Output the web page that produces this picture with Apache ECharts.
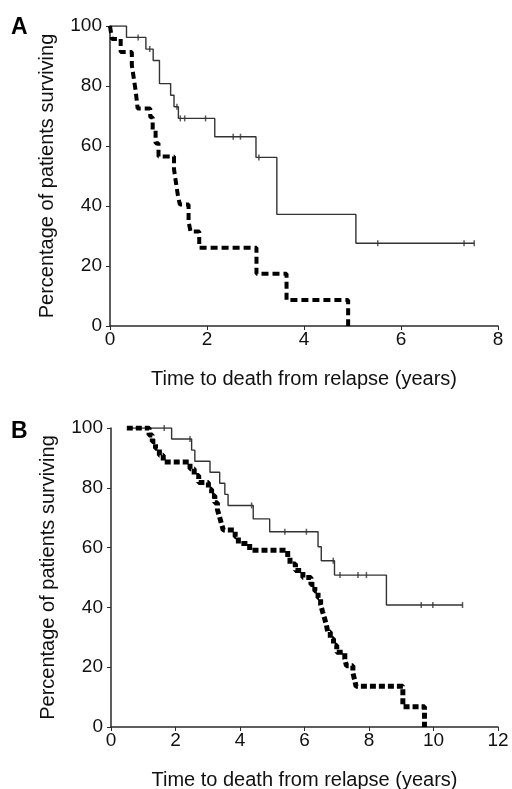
<!DOCTYPE html>
<html>
<head>
<meta charset="utf-8">
<script src="https://cdn.jsdelivr.net/npm/echarts@6/dist/echarts.min.js"></script>
<style>
html,body{margin:0;padding:0;background:#fff;}
#chart{width:512px;height:789px;}
</style>
</head>
<body>
<div id="chart"></div>
<script>
// ---- Panel A data (years, % surviving after each drop) ----
const aSolidT = [0, 0.34, 0.74, 0.89, 1.02, 1.25, 1.32, 1.41, 2.16, 3.01, 3.44, 5.07, 7.51];
const aSolidS = [100, 96.2, 92.3, 88.5, 80.8, 76.9, 73.1, 69.2, 63.1, 56.2, 37.2, 27.6, 27.6];
const aSolidCensor = [0.58, 0.82, 1.38, 1.45, 1.54, 1.97, 2.54, 2.69, 3.07, 5.52, 7.3, 7.51];
const aDashT = [0, 0.04, 0.22, 0.45, 0.49, 0.53, 0.57, 0.83, 0.88, 0.94, 1.0, 1.32, 1.36, 1.4, 1.44, 1.62, 1.66, 1.84, 3.02, 3.64, 4.91];
const aDashS = [100, 95.7, 91.3, 87.0, 82.6, 78.3, 72.5, 69.6, 65.2, 60.9, 56.5, 52.2, 47.8, 43.5, 40.5, 34.8, 31.5, 26.1, 17.4, 8.7, 0];

// ---- Panel B data ----
const bSolidT = [0.5, 1.88, 2.5, 2.6, 3.07, 3.37, 3.53, 3.63, 4.41, 4.92, 6.42, 6.52, 6.93, 8.54, 10.9];
const bSolidS = [100, 96.3, 92.6, 88.9, 85.2, 81.5, 77.8, 74.1, 69.6, 65.3, 60.3, 55.6, 50.8, 40.8, 40.8];
const bSolidCensor = [1.65, 2.45, 4.36, 5.39, 6.06, 6.89, 7.1, 7.66, 7.92, 9.62, 9.98, 10.9];
const bDashT = [0.49, 1.18, 1.28, 1.38, 1.5, 1.62, 2.45, 2.58, 2.72, 3.02, 3.12, 3.22, 3.3, 3.36, 3.42, 3.48, 3.85, 3.95, 4.3, 5.48, 5.55, 5.72, 5.95, 6.2, 6.32, 6.42, 6.5, 6.56, 6.62, 6.68, 6.72, 6.8, 6.9, 7.0, 7.25, 7.3, 7.5, 7.55, 7.6, 9.05, 9.72];
const bDashS = [100, 97.7, 95.5, 93.2, 90.9, 88.6, 86.4, 84.1, 81.8, 79.5, 77.3, 75.0, 72.7, 70.5, 68.2, 65.9, 63.6, 61.4, 59.1, 56.8, 54.5, 52.3, 50.0, 47.7, 45.5, 43.2, 40.9, 38.6, 36.4, 34.1, 31.8, 29.5, 27.3, 25.0, 22.7, 20.5, 18.2, 15.9, 13.6, 6.8, 0];

// ---- Axis text ----
const yTitle = 'Percentage of patients surviving';
const xTitle = 'Time to death from relapse (years)';
const panelLetters = ['A', 'B'];

function pairs(T, S) { return T.map((t, i) => [t, S[i]]); }
function valueAt(T, S, t) {
  let v = S[0];
  for (let i = 0; i < T.length; i++) { if (T[i] <= t) v = S[i]; }
  return v;
}
function censorPts(C, T, S) { return C.map(t => [t, valueAt(T, S, t)]); }

const FONT = '"Liberation Sans", Arial, sans-serif';
const axisCol = '#2a2a2a';
const txtCol = '#111';

function xAx(idx, max) {
  return {
    gridIndex: idx, type: 'value', min: 0, max: max, interval: 2,
    splitLine: { show: false },
    axisLine: { show: true, lineStyle: { color: axisCol, width: 1.5 } },
    axisTick: { show: true, length: 4, lineStyle: { color: axisCol, width: 1 } },
    axisLabel: { fontSize: 19, color: txtCol, margin: 4, fontFamily: FONT },
    name: xTitle, nameLocation: 'middle', nameGap: 43,
    nameTextStyle: { fontSize: 20, color: txtCol, fontFamily: FONT }
  };
}
function yAx(idx) {
  return {
    gridIndex: idx, type: 'value', min: 0, max: 100, interval: 20,
    splitLine: { show: false },
    axisLine: { show: true, lineStyle: { color: axisCol, width: 1.5 } },
    axisTick: { show: true, length: 4, lineStyle: { color: axisCol, width: 1 } },
    axisLabel: { fontSize: 19, color: txtCol, margin: 8, fontFamily: FONT },
    name: yTitle, nameLocation: 'middle', nameGap: 53,
    nameTextStyle: { fontSize: 20, color: txtCol, fontFamily: FONT }
  };
}
function solid(idx, T, S) {
  return { type: 'line', xAxisIndex: idx, yAxisIndex: idx, step: 'end', showSymbol: false,
    data: pairs(T, S), lineStyle: { color: '#333', width: 1.4 }, z: 2, silent: true };
}
function dashed(idx, T, S, w, dash) {
  return { type: 'line', xAxisIndex: idx, yAxisIndex: idx, step: 'end', showSymbol: false,
    data: pairs(T, S), lineStyle: { color: '#000', width: w, type: dash, cap: 'butt' }, z: 3, silent: true };
}
function censor(idx, C, T, S) {
  return { type: 'scatter', xAxisIndex: idx, yAxisIndex: idx, symbol: 'rect', symbolSize: [1.5, 6],
    itemStyle: { color: '#333' }, data: censorPts(C, T, S), z: 4, silent: true };
}

const chart = echarts.init(document.getElementById('chart'), null, { renderer: 'canvas' });
chart.setOption({
  animation: false,
  backgroundColor: '#fff',
  textStyle: { fontFamily: FONT },
  grid: [
    { left: 110, top: 26, width: 388, height: 300, containLabel: false, outerBoundsMode: 'none' },
    { left: 111, top: 428, width: 387, height: 299, containLabel: false, outerBoundsMode: 'none' }
  ],
  xAxis: [xAx(0, 8), xAx(1, 12)],
  yAxis: [yAx(0), yAx(1)],
  series: [
    solid(0, aSolidT, aSolidS),
    censor(0, aSolidCensor, aSolidT, aSolidS),
    dashed(0, aDashT, aDashS, 4, [7, 4]),
    solid(1, bSolidT, bSolidS),
    censor(1, bSolidCensor, bSolidT, bSolidS),
    dashed(1, bDashT, bDashS, 5, [6, 3])
  ],
  graphic: [
    { type: 'text', left: 11, top: 16, style: { text: panelLetters[0], font: 'bold 23px ' + FONT, fill: '#000' } },
    { type: 'text', left: 11, top: 420, style: { text: panelLetters[1], font: 'bold 23px ' + FONT, fill: '#000' } }
  ]
});
</script>
</body>
</html>
